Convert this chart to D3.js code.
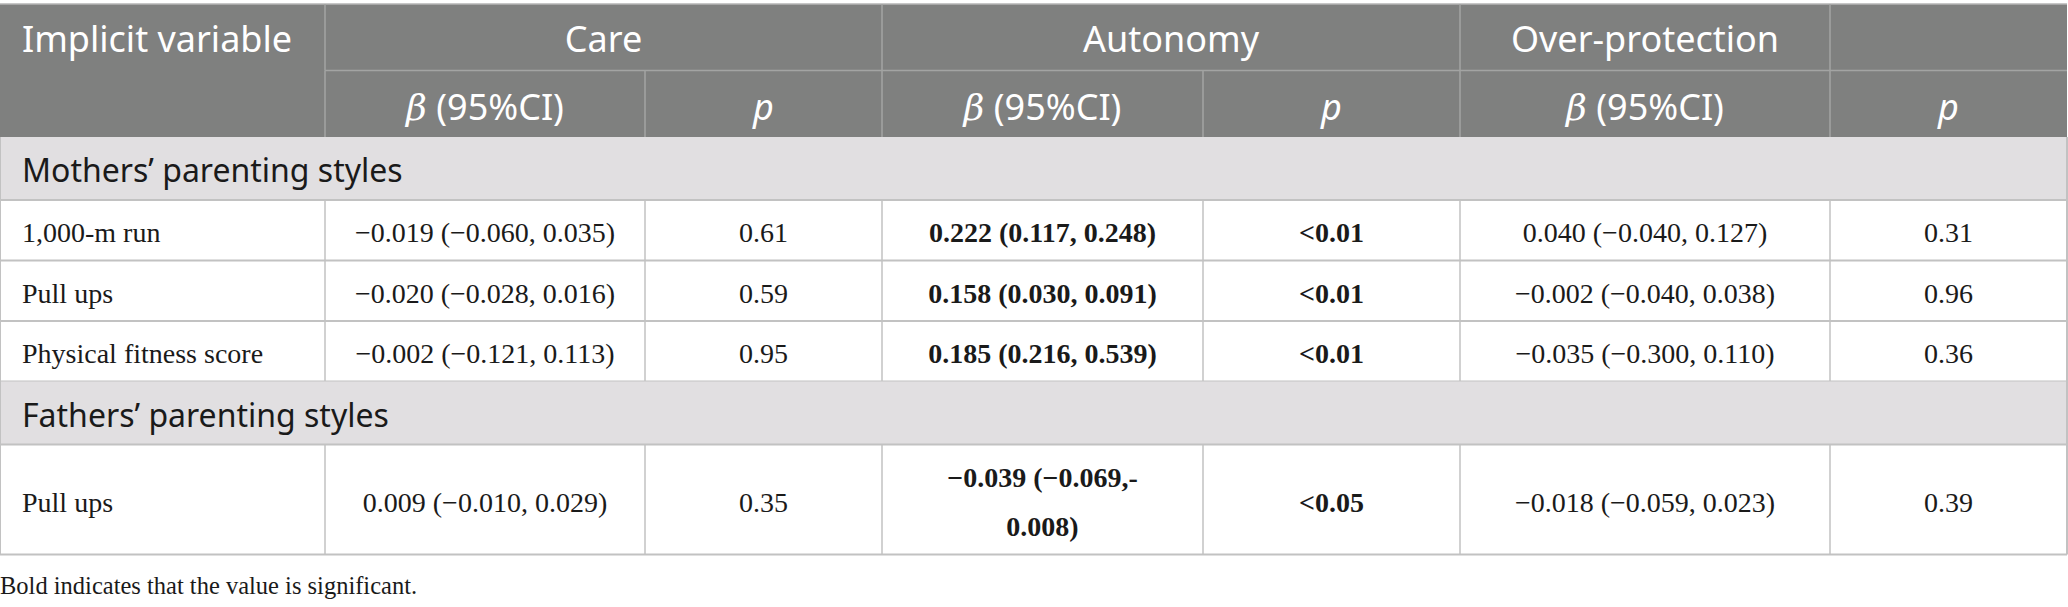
<!DOCTYPE html>
<html>
<head>
<meta charset="utf-8">
<script src="https://cdn.jsdelivr.net/npm/d3@7"></script>
<style>
  body { margin: 0; background: #fff; }
  .hd { font-family: "Noto Sans", sans-serif; fill: #fff; }
  .sec { font-family: "Noto Sans", sans-serif; fill: #1a1a1a; }
  .cell { font-family: "Liberation Serif", serif; fill: #1a1a1a; }
</style>
</head>
<body>
<script>
// table content
let groups = ["Care", "Autonomy", "Over-protection"],
  subHeads = ["β (95%CI)", "p", "β (95%CI)", "p", "β (95%CI)", "p"],
  sections = ["Mothers’ parenting styles", "Fathers’ parenting styles"],
  variables = ["1,000-m run", "Pull ups", "Physical fitness score", "Pull ups"],
  rowSection = [0, 0, 0, 1],
  careBeta = ["−0.019 (−0.060, 0.035)", "−0.020 (−0.028, 0.016)", "−0.002 (−0.121, 0.113)", "0.009 (−0.010, 0.029)"],
  careP = ["0.61", "0.59", "0.95", "0.35"],
  autoBeta = ["0.222 (0.117, 0.248)", "0.158 (0.030, 0.091)", "0.185 (0.216, 0.539)", "−0.039 (−0.069,-\n0.008)"],
  autoP = ["<0.01", "<0.01", "<0.01", "<0.05"],
  overBeta = ["0.040 (−0.040, 0.127)", "−0.002 (−0.040, 0.038)", "−0.035 (−0.300, 0.110)", "−0.018 (−0.059, 0.023)"],
  overP = ["0.31", "0.96", "0.36", "0.39"],
  boldCols = [false, false, true, true, false, false],
  footnote = "Bold indicates that the value is significant.";

let width = 2068, height = 607;

// column edges (layout)
let colEdges = [0, 325, 645, 882, 1203, 1460, 1830, 2067];
let x = d3.scaleOrdinal().domain(d3.range(colEdges.length)).range(colEdges);

let hTop = 4, hMid = 70.5, hBot = 137;
// body layout: section bands and data rows
let bodyRows = [];
let rowH = { section: 63, data: 60.5, tall: 110 };
let yCur = hBot;
rowSection.forEach((s, i) => {
  if (i == 0 || rowSection[i - 1] != s) {
    bodyRows.push({ type: "section", label: sections[s], y0: yCur, h: rowH.section });
    yCur += rowH.section;
  }
  let lines = autoBeta[i].split("\n").length;
  let h = lines > 1 ? rowH.tall : rowH.data;
  bodyRows.push({
    type: "data", y0: yCur, h: h,
    cells: [variables[i], careBeta[i], careP[i], autoBeta[i], autoP[i], overBeta[i], overP[i]]
  });
  yCur += h;
});
let tableBottom = yCur;

let svg = d3.select("body").append("svg")
  .attr("width", width).attr("height", height);

// header background
svg.append("rect")
  .attr("x", x(0)).attr("y", hTop)
  .attr("width", x(7) - x(0)).attr("height", hBot - hTop)
  .attr("fill", "#7f807f");
svg.append("line")
  .attr("x1", x(0)).attr("x2", x(7)).attr("y1", hTop).attr("y2", hTop)
  .attr("stroke", "#b5b5b5").attr("stroke-width", 1.5);

let hdLine = "#a3a4a3";
// header horizontal mid line
svg.append("line")
  .attr("x1", x(1)).attr("x2", x(7)).attr("y1", hMid).attr("y2", hMid)
  .attr("stroke", hdLine).attr("stroke-width", 1.5);
// header verticals, top row then bottom row
[1, 3, 5, 6].forEach(c => {
  svg.append("line").attr("x1", x(c)).attr("x2", x(c))
    .attr("y1", hTop).attr("y2", hMid)
    .attr("stroke", hdLine).attr("stroke-width", 1.5);
});
[1, 2, 3, 4, 5, 6].forEach(c => {
  svg.append("line").attr("x1", x(c)).attr("x2", x(c))
    .attr("y1", hMid).attr("y2", hBot)
    .attr("stroke", hdLine).attr("stroke-width", 1.5);
});

// header texts
svg.append("text").attr("class", "hd")
  .attr("x", x(0) + 22).attr("y", 52)
  .attr("font-size", 36)
  .text("Implicit variable");

let groupSpans = [[1, 3], [3, 5], [5, 6]];
svg.selectAll(".grp").data(groups).enter().append("text")
  .attr("class", "hd grp")
  .attr("x", (d, i) => (x(groupSpans[i][0]) + x(groupSpans[i][1])) / 2)
  .attr("y", 52)
  .attr("text-anchor", "middle")
  .attr("font-size", 36)
  .text(d => d);

let subs = svg.selectAll(".sub").data(subHeads).enter().append("text")
  .attr("class", "hd sub")
  .attr("x", (d, i) => (x(i + 1) + x(i + 2)) / 2)
  .attr("y", 120)
  .attr("text-anchor", "middle")
  .attr("font-size", 36);
subs.each(function (d) {
  let t = d3.select(this);
  if (d == "p") {
    t.append("tspan").attr("font-style", "italic").text("p");
  } else {
    t.append("tspan").attr("font-style", "italic")
      .attr("font-family", "DejaVu Serif").text("β");
    t.append("tspan").text(d.slice(1));
  }
});

// body
let rowsG = svg.append("g");
let gridColor = "#c2c2c2";
bodyRows.forEach(r => {
  if (r.type == "section") {
    rowsG.append("rect")
      .attr("x", x(0)).attr("y", r.y0)
      .attr("width", x(7) - x(0)).attr("height", r.h)
      .attr("fill", "#e1dfe1");
    rowsG.append("text").attr("class", "sec")
      .attr("x", x(0) + 22).attr("y", r.y0 + 45)
      .attr("font-size", 32)
      .text(r.label);
  } else {
    rowsG.selectAll(null).data(r.cells).enter().append("text")
      .attr("class", "cell")
      .attr("x", (d, i) => i == 0 ? x(0) + 22 : (x(i) + x(i + 1)) / 2)
      .attr("text-anchor", (d, i) => i == 0 ? "start" : "middle")
      .attr("font-size", 28)
      .attr("font-weight", (d, i) => boldCols[i - 1] ? "bold" : "normal")
      .each(function (d) {
        let lines = d.split("\n");
        let t = d3.select(this);
        let mid = r.y0 + r.h / 2;
        let lh = 49;
        lines.forEach((ln, k) => {
          t.append("tspan")
            .attr("x", t.attr("x"))
            .attr("y", mid + 12 + (k - (lines.length - 1) / 2) * lh)
            .text(ln);
        });
      });
    // verticals inside data rows
    d3.range(1, 7).forEach(c => {
      rowsG.append("line").attr("x1", x(c)).attr("x2", x(c))
        .attr("y1", r.y0).attr("y2", r.y0 + r.h)
        .attr("stroke", gridColor).attr("stroke-width", 1.5);
    });
  }
  rowsG.append("line")
    .attr("x1", x(0)).attr("x2", x(7))
    .attr("y1", r.y0 + r.h).attr("y2", r.y0 + r.h)
    .attr("stroke", gridColor).attr("stroke-width", 2);
});

// outer borders of body
[0, 7].forEach(c => {
  svg.append("line").attr("x1", x(c)).attr("x2", x(c))
    .attr("y1", hBot).attr("y2", tableBottom)
    .attr("stroke", gridColor).attr("stroke-width", 2);
});

svg.append("text").attr("class", "cell")
  .attr("x", 0).attr("y", 594)
  .attr("font-size", 24.5)
  .text(footnote);
</script>
</body>
</html>
